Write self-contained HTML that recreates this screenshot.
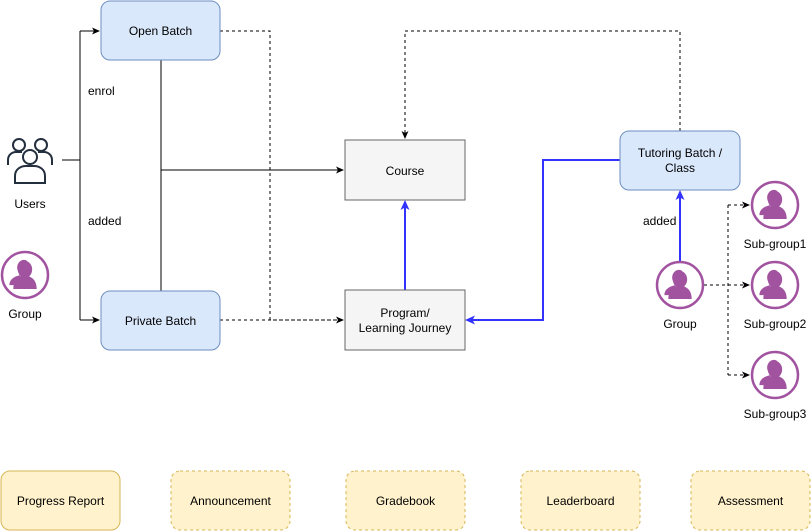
<!DOCTYPE html>
<html><head><meta charset="utf-8"><style>
html,body{margin:0;padding:0;background:#fff;}
svg{display:block;}
text{font-family:"Liberation Sans",Helvetica,Arial,sans-serif;font-size:12px;fill:#000;}
</style></head><body>
<svg width="811" height="531" viewBox="0 0 811 531" xmlns="http://www.w3.org/2000/svg">
<defs>
<marker id="ak" markerWidth="8" markerHeight="8" refX="7" refY="4" orient="auto" markerUnits="userSpaceOnUse"><path d="M0,0.5 L8,4 L0,7.5 L2,4 Z" fill="#000"/></marker>
<marker id="ab" markerWidth="10" markerHeight="10" refX="8" refY="5" orient="auto" markerUnits="userSpaceOnUse"><path d="M0,0.5 L10,5 L0,9.5 L2.5,5 Z" fill="#3333ff"/></marker>
<g id="grp">
<circle cx="0" cy="0" r="23" fill="#fff" stroke="#a153a0" stroke-width="2.5"/>
<g transform="translate(0,1) scale(1.3)">
<path d="M-9,10 C-9,4 -6,1 -2,0 L2,0 C6,1 9,4 9,10 Z" fill="#a153a0"/>
<ellipse cx="0" cy="-5" rx="5.5" ry="6.5" fill="#a153a0"/>
<path d="M-12,7 C-12,3 -9,1 -6,0 L-3,-1 C-6,-3 -7,-7 -5,-10 C-3,-13 1,-13 2,-11 C-2,-11 -5,-8 -5,-4 C-5,-1 -3,1 -2,2 C-6,3 -8,5 -8,7 Z" fill="#a153a0"/>
</g>
</g>
</defs>

<g fill="none" stroke="#000" stroke-width="1">
<path d="M62,160 H80 M80,31 V320"/>
<path d="M80,31 H99" marker-end="url(#ak)"/>
<path d="M80,320 H99" marker-end="url(#ak)"/>
<path d="M161,60 V291"/>
<path d="M161,170 H343" marker-end="url(#ak)"/>
<path d="M220,31 H270 V320 H343" stroke-dasharray="3,3" marker-end="url(#ak)"/>
<path d="M220,320 H343" stroke-dasharray="3,3"/>
<path d="M680,131 V31 H405 V138" stroke-dasharray="3,3" marker-end="url(#ak)"/>
<path d="M704,285 H728 M728,205 V375" stroke-dasharray="3,3"/>
<path d="M728,205 H749" stroke-dasharray="3,3" marker-end="url(#ak)"/>
<path d="M728,285 H749" stroke-dasharray="3,3" marker-end="url(#ak)"/>
<path d="M728,375 H749" stroke-dasharray="3,3" marker-end="url(#ak)"/>
</g>
<g fill="none" stroke="#3333ff" stroke-width="2">
<path d="M405,290 V202" marker-end="url(#ab)"/>
<path d="M620,160 H543 V320 H467" marker-end="url(#ab)"/>
<path d="M680,261 V192" marker-end="url(#ab)"/>
</g>

<rect x="101" y="1" width="119" height="59" rx="9" fill="#dae8fc" stroke="#6c8ebf"/>
<text x="160.5" y="35" text-anchor="middle">Open Batch</text>
<rect x="101" y="291" width="119" height="59" rx="9" fill="#dae8fc" stroke="#6c8ebf"/>
<text x="160.5" y="325" text-anchor="middle">Private Batch</text>
<rect x="345" y="140" width="120" height="60" fill="#f5f5f5" stroke="#666"/>
<text x="405" y="175" text-anchor="middle">Course</text>
<rect x="345" y="290" width="120" height="60" fill="#f5f5f5" stroke="#666"/>
<text x="405" y="317" text-anchor="middle">Program/</text>
<text x="405" y="332" text-anchor="middle">Learning Journey</text>
<rect x="620" y="131" width="120" height="59" rx="9" fill="#dae8fc" stroke="#6c8ebf"/>
<text x="680" y="157" text-anchor="middle">Tutoring Batch /</text>
<text x="680" y="172" text-anchor="middle">Class</text>

<rect x="86" y="82" width="30" height="16" fill="#fff"/>
<text x="88" y="95">enrol</text>
<rect x="86" y="212" width="36" height="16" fill="#fff"/>
<text x="88" y="225">added</text>
<rect x="641" y="212" width="36" height="16" fill="#fff"/>
<text x="643" y="225">added</text>

<g fill="none" stroke="#232f3e" stroke-width="2">
<circle cx="19" cy="145" r="6"/>
<path d="M8,165 V160 C8,155 12,152 16,152 H22"/>
<circle cx="41" cy="145" r="6"/>
<path d="M52,165 V160 C52,155 48,152 44,152 H38"/>
<circle cx="30" cy="157" r="7"/>
<path d="M15,183 V176 C15,169 21,166 26,166 H34 C39,166 45,169 45,176 V183 Z"/>
</g>
<text x="30" y="208" text-anchor="middle">Users</text>

<use href="#grp" x="25" y="275"/>
<text x="25" y="318" text-anchor="middle">Group</text>
<use href="#grp" x="680" y="285"/>
<text x="680" y="328" text-anchor="middle">Group</text>
<use href="#grp" x="775" y="205"/>
<text x="775" y="248" text-anchor="middle">Sub-group1</text>
<use href="#grp" x="775" y="285"/>
<text x="775" y="328" text-anchor="middle">Sub-group2</text>
<use href="#grp" x="775" y="375"/>
<text x="775" y="418" text-anchor="middle">Sub-group3</text>

<g fill="#fff2cc" stroke="#d6b656">
<rect x="1" y="471" width="119" height="59" rx="9"/>
<rect x="171" y="471" width="119" height="59" rx="9" stroke-dasharray="3,3"/>
<rect x="346" y="471" width="119" height="59" rx="9" stroke-dasharray="3,3"/>
<rect x="521" y="471" width="119" height="59" rx="9" stroke-dasharray="3,3"/>
<rect x="691" y="471" width="119" height="59" rx="9" stroke-dasharray="3,3"/>
</g>
<text x="60.5" y="505" text-anchor="middle">Progress Report</text>
<text x="230.5" y="505" text-anchor="middle">Announcement</text>
<text x="405.5" y="505" text-anchor="middle">Gradebook</text>
<text x="580.5" y="505" text-anchor="middle">Leaderboard</text>
<text x="750.5" y="505" text-anchor="middle">Assessment</text>
</svg>
</body></html>
